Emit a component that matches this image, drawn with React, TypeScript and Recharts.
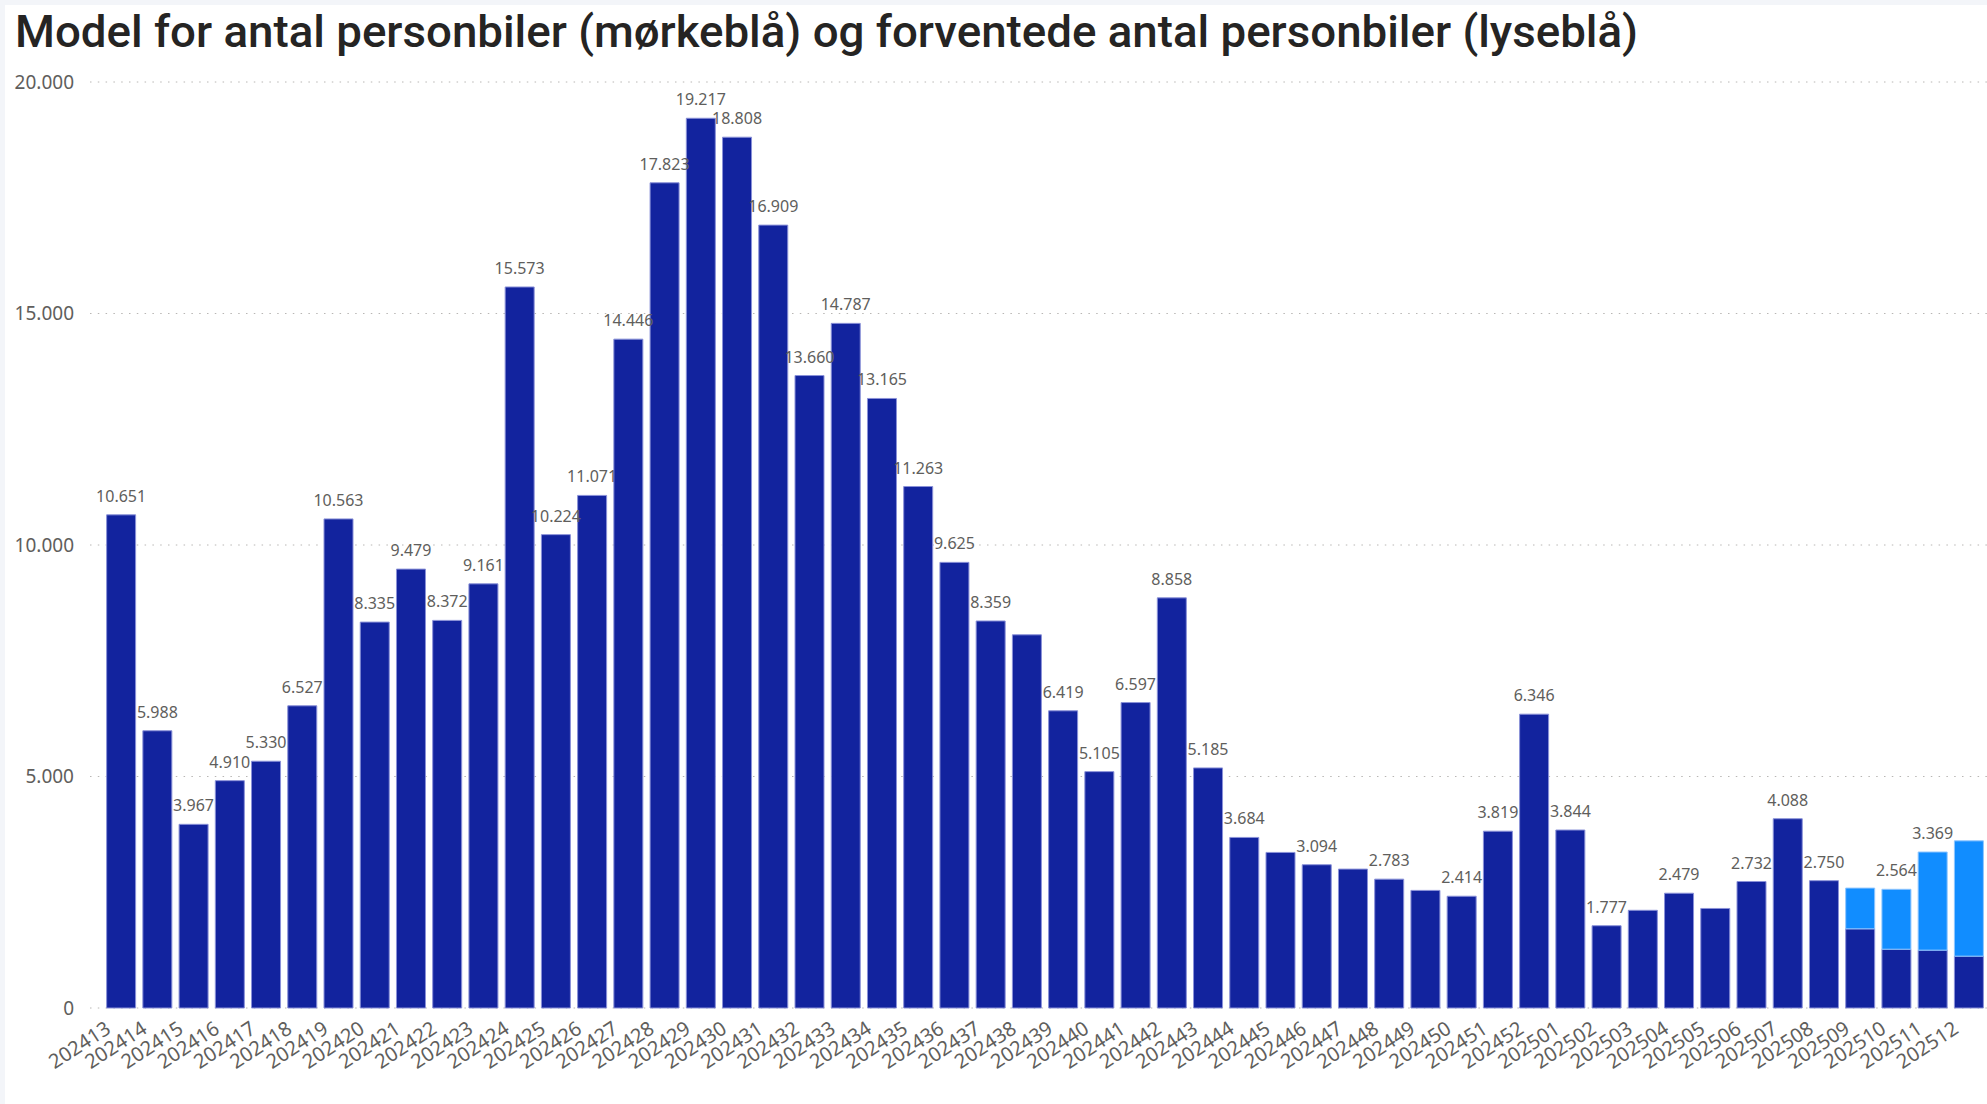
import React from 'react';
import { ComposedChart, Bar, Line, XAxis, YAxis, CartesianGrid, LabelList } from 'recharts';

const weeks = [
  '202413', '202414', '202415', '202416', '202417', '202418', '202419', '202420', '202421', '202422',
  '202423', '202424', '202425', '202426', '202427', '202428', '202429', '202430', '202431', '202432',
  '202433', '202434', '202435', '202436', '202437', '202438', '202439', '202440', '202441', '202442',
  '202443', '202444', '202445', '202446', '202447', '202448', '202449', '202450', '202451', '202452',
  '202501', '202502', '202503', '202504', '202505', '202506', '202507', '202508', '202509', '202510',
  '202511', '202512',
];

const actualCars = [
  10651, 5988, 3967, 4910, 5330, 6527, 10563, 8335, 9479, 8372,
  9161, 15573, 10224, 11071, 14446, 17823, 19217, 18808, 16909, 13660,
  14787, 13165, 11263, 9625, 8359, 8060, 6419, 5105, 6597, 8858,
  5185, 3684, 3360, 3094, 3000, 2783, 2540, 2414, 3819, 6346,
  3844, 1777, 2110, 2479, 2150, 2732, 4088, 2750, 1710, 1270,
  1250, 1120,
];

const forecastCars = [
  0, 0, 0, 0, 0, 0, 0, 0, 0, 0,
  0, 0, 0, 0, 0, 0, 0, 0, 0, 0,
  0, 0, 0, 0, 0, 0, 0, 0, 0, 0,
  0, 0, 0, 0, 0, 0, 0, 0, 0, 0,
  0, 0, 0, 0, 0, 0, 0, 0, 880, 1294,
  2119, 2490,
];

const hiddenLabelWeeks = ['202438', '202445', '202447', '202449', '202503', '202505', '202509', '202512'];

const yTicks = [0, 5000, 10000, 15000, 20000];

const TITLE = 'Model for antal personbiler (mørkeblå) og forventede antal personbiler (lyseblå)';

const data = weeks.map((w, i) => {
  const total = actualCars[i] + forecastCars[i];
  return {
    week: w,
    actual: actualCars[i],
    forecast: forecastCars[i],
    total,
    label: hiddenLabelWeeks.includes(w) ? null : total,
  };
});

const fmt = (v: number) => String(Math.round(v)).replace(/\B(?=(\d{3})+(?!\d))/g, '.');

const FONT = "'Segoe UI', 'Noto Sans', sans-serif";
const GRAY = '#605E5C';

const XTick = (props: any) => {
  const { x, y, payload } = props;
  return (
    <text
      transform={`translate(${x - 9},${y + 24}) rotate(-33)`}
      textAnchor="end"
      fontSize={20}
      fontFamily={FONT}
      fill={GRAY}
    >
      {payload.value}
    </text>
  );
};

const TotalLabel = (props: any) => {
  const { x, y, value } = props;
  if (value === null || value === undefined) return null;
  return (
    <text x={x} y={y - 13} textAnchor="middle" fontSize={16} fontFamily={FONT} fill={GRAY}>
      {fmt(value)}
    </text>
  );
};

export default function App() {
  return (
    <div style={{ position: 'absolute', left: 0, top: 0, width: 1987, height: 1104, background: '#F3F5F9', overflow: 'hidden' }}>
      <div style={{ position: 'absolute', left: 5, top: 5, width: 1982, height: 1099, background: '#FFFFFF' }} />
      <svg width={1987} height={70} style={{ position: 'absolute', left: 0, top: 0 }}>
        <text
          x={15}
          y={47}
          fontSize={45}
          fontWeight={500}
          fontFamily="Roboto, 'DejaVu Sans', sans-serif"
          fill="#252423"
          textLength={1623}
          lengthAdjust="spacingAndGlyphs"
        >
          {TITLE}
        </text>
      </svg>
      <div style={{ position: 'absolute', left: 0, top: 0 }}>
        <ComposedChart
          width={1987}
          height={1104}
          data={data}
          margin={{ top: 82, right: 0, bottom: 0, left: 0 }}
          barCategoryGap="10%"
        >
          <CartesianGrid vertical={false} stroke="#B8B6B4" strokeDasharray="1.5 6.3" />
          <XAxis
            dataKey="week"
            interval={0}
            height={96}
            tickLine={false}
            axisLine={false}
            tickSize={0}
            tickMargin={0}
            padding={{ left: 13, right: 0 }}
            tick={<XTick />}
          />
          <YAxis
            width={90}
            domain={[0, 20000]}
            ticks={yTicks}
            tickFormatter={fmt}
            tickLine={false}
            axisLine={false}
            tickSize={0}
            tickMargin={16}
            tick={{ fontSize: 19, fontFamily: FONT, fill: GRAY }}
          />
          <Bar dataKey="actual" stackId="s" fill="#12239E" stroke="#8A91D8" strokeWidth={1} isAnimationActive={false} />
          <Bar dataKey="forecast" stackId="s" fill="#118DFF" stroke="#8FC6FF" strokeWidth={1} isAnimationActive={false} />
          <Line dataKey="total" stroke="none" dot={false} activeDot={false} isAnimationActive={false} legendType="none">
            <LabelList dataKey="label" content={<TotalLabel />} />
          </Line>
        </ComposedChart>
      </div>
    </div>
  );
}
